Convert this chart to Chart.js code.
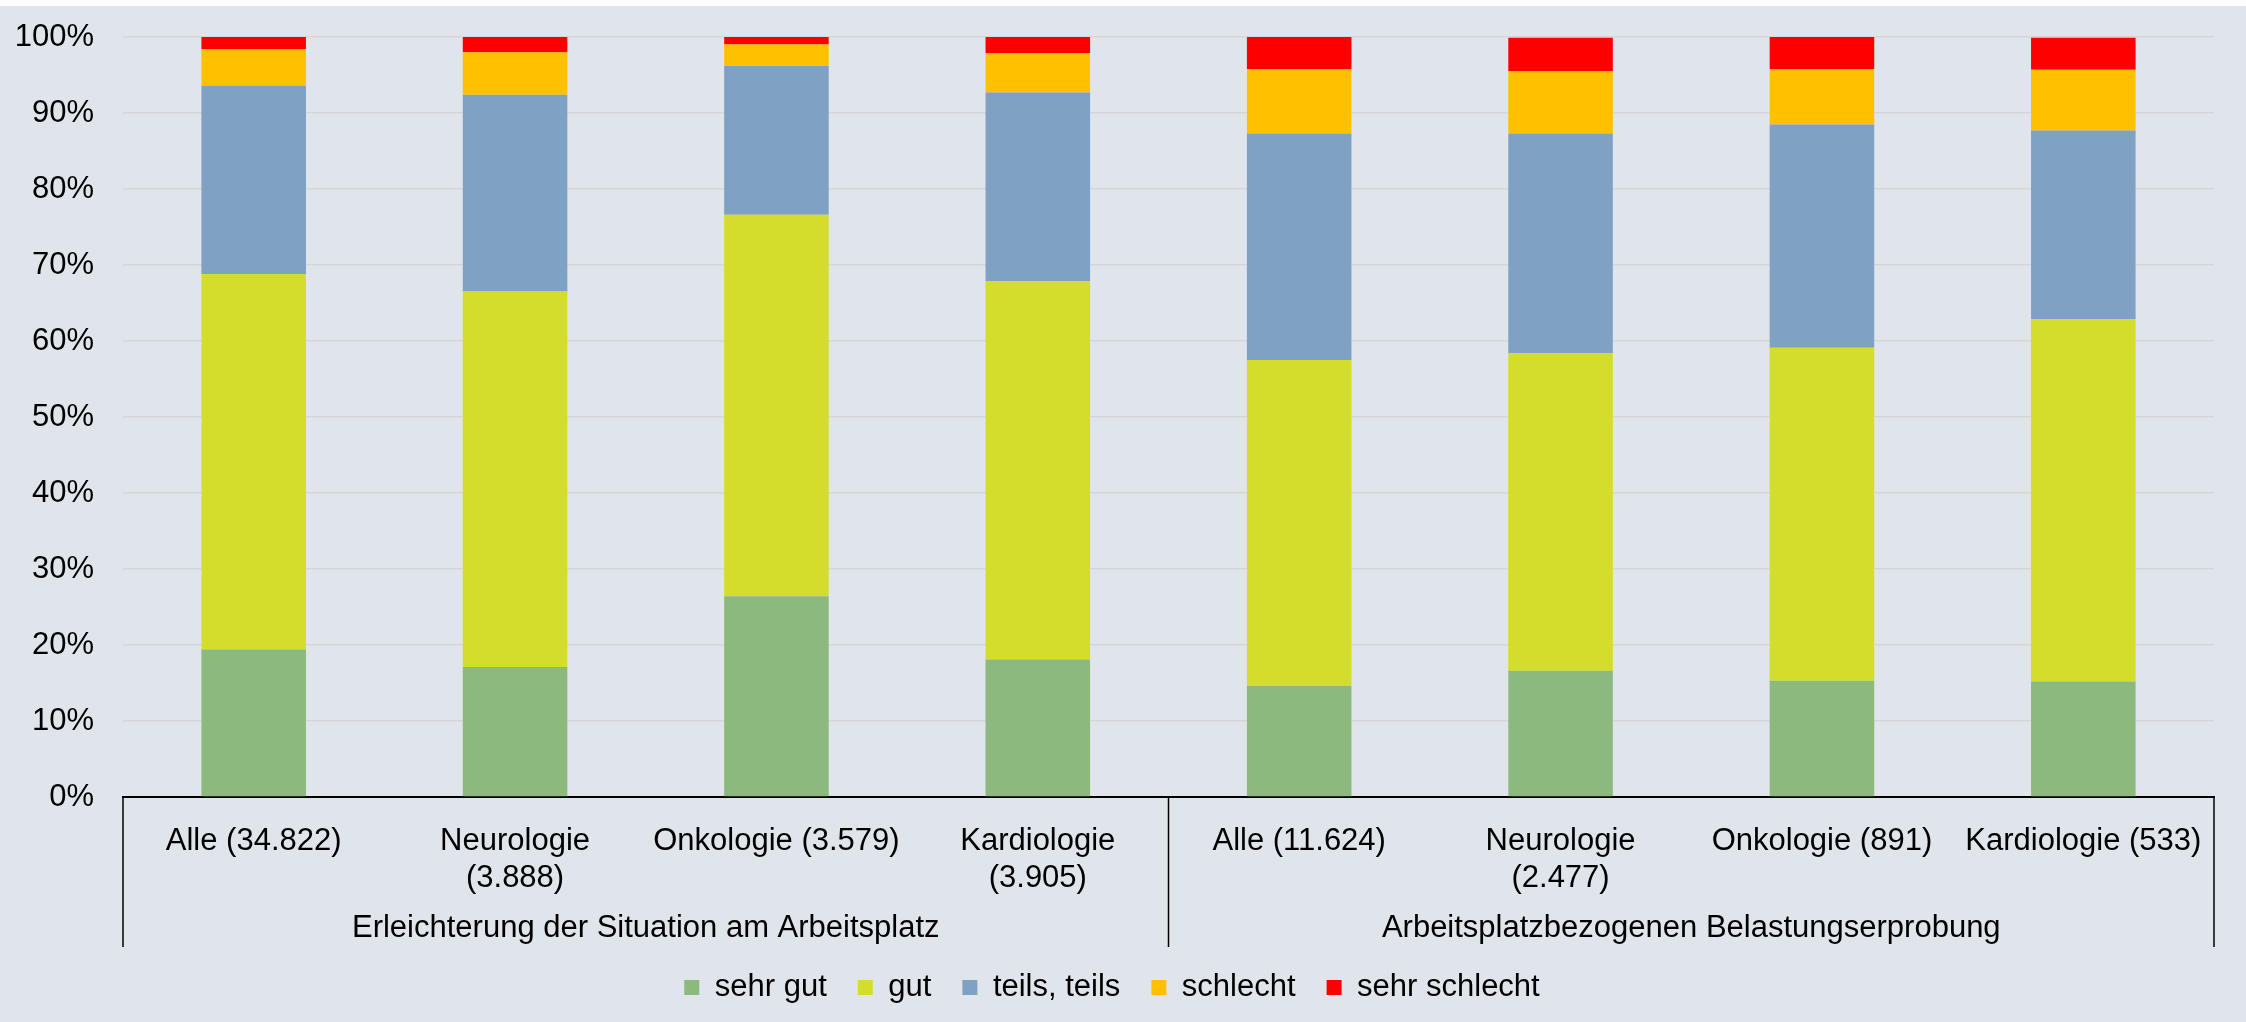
<!DOCTYPE html>
<html>
<head>
<meta charset="utf-8">
<script src="https://cdn.jsdelivr.net/npm/chart.js@4.4.1/dist/chart.umd.min.js"></script>
<style>
  body { margin: 0; background: #ffffff; }
  canvas { display: block; }
</style>
</head>
<body>
<canvas id="myChart" width="2246" height="1022"></canvas>
<script>

var categories = [
  'Alle (34.822)', ['Neurologie', '(3.888)'], 'Onkologie (3.579)', ['Kardiologie', '(3.905)'],
  'Alle (11.624)', ['Neurologie', '(2.477)'], 'Onkologie (891)', 'Kardiologie (533)'
];
var groups = ['Erleichterung der Situation am Arbeitsplatz', 'Arbeitsplatzbezogenen Belastungserprobung'];
var groupSize = 4;

var sehrGut     = [19.4, 17.1, 26.4, 18.1, 14.6, 16.6, 15.3, 15.2];
var gut         = [49.4, 49.4, 50.2, 49.8, 42.9, 41.8, 43.8, 47.7];
var teilsTeils  = [24.8, 25.9, 19.6, 24.8, 29.8, 28.9, 29.4, 24.8];
var schlecht    = [4.8, 5.6, 2.8, 5.2, 8.5, 8.2, 7.3, 8.0];
var sehrSchlecht = [1.6, 2.0, 1.0, 2.1, 4.2, 4.4, 4.2, 4.2];

var yTicks = [0, 10, 20, 30, 40, 50, 60, 70, 80, 90, 100];

var fontFamily = '"Liberation Sans", Arial, sans-serif';

// background, fixed legend height, group labels under the category axis
var groupAxis = {
  id: 'groupAxis',
  beforeLayout: function(chart) {
    var legend = chart.legend;
    if (legend && !legend._fixedFit) {
      var fit = legend.fit;
      legend.fit = function() {
        fit.call(this);
        this.height = 81;
      };
      legend._fixedFit = true;
    }
  },
  beforeDraw: function(chart) {
    var ctx = chart.ctx;
    ctx.save();
    ctx.fillStyle = '#ffffff';
    ctx.fillRect(0, 0, chart.width, chart.height);
    ctx.fillStyle = '#e0e5ec';
    ctx.fillRect(0, 6, chart.width, chart.height - 6);
    ctx.restore();
  },
  afterDraw: function(chart) {
    var ctx = chart.ctx;
    var x = chart.scales.x;
    var top = x.top;
    var bottom = top + 150;
    var bounds = [];
    for (var g = 0; g <= groups.length; g++) {
      bounds.push(x.getPixelForValue(g * groupSize - 0.5));
    }
    ctx.save();
    ctx.strokeStyle = '#000000';
    ctx.lineWidth = 1.5;
    bounds.forEach(function(b) {
      ctx.beginPath();
      ctx.moveTo(b, top);
      ctx.lineTo(b, bottom);
      ctx.stroke();
    });
    ctx.fillStyle = '#000000';
    ctx.font = '31px ' + fontFamily;
    ctx.textAlign = 'center';
    ctx.textBaseline = 'middle';
    groups.forEach(function(name, i) {
      ctx.fillText(name, (bounds[i] + bounds[i + 1]) / 2, top + 131);
    });
    ctx.restore();
  }
};

function init() {

  Chart.defaults.color = '#000000';
  Chart.defaults.font.family = fontFamily;
  Chart.defaults.font.size = 31;

  var ctx = document.getElementById('myChart').getContext('2d');
  var chart = new Chart(ctx, {
    type: 'bar',
    data: {
      labels: categories,
      datasets: [
        { label: 'sehr gut', data: sehrGut, backgroundColor: '#8cb97d' },
        { label: 'gut', data: gut, backgroundColor: '#d4dd2b' },
        { label: 'teils, teils', data: teilsTeils, backgroundColor: '#7fa1c4' },
        { label: 'schlecht', data: schlecht, backgroundColor: '#ffc000' },
        { label: 'sehr schlecht', data: sehrSchlecht, backgroundColor: '#ff0000' }
      ]
    },
    options: {
      responsive: false,
      animation: false,
      devicePixelRatio: 1,
      categoryPercentage: 1,
      barPercentage: 0.4,
      layout: { padding: { top: 37, left: 10, right: 32, bottom: 0 } },
      scales: {
        x: {
          stacked: true,
          grid: { display: false },
          border: { display: true, color: '#000000', width: 2 },
          ticks: { autoSkip: false, maxRotation: 0, padding: 18, font: { size: 31, lineHeight: 1.2 } },
          afterFit: function(scale) { scale.height = 144; }
        },
        y: {
          stacked: true,
          min: 0,
          max: 100,
          grid: { color: '#d6d6d8', lineWidth: 1.6, drawTicks: true, tickLength: 29, tickColor: 'rgba(0,0,0,0)' },
          border: { display: false },
          afterBuildTicks: function(scale) {
            scale.ticks = yTicks.map(function(v) { return { value: v }; });
          },
          ticks: {
            padding: 0,
            callback: function(v) { return v + '%'; }
          },
          afterFit: function(scale) { scale.width = 113; }
        }
      },
      plugins: {
        tooltip: { enabled: false },
        legend: {
          position: 'bottom',
          labels: { boxWidth: 15, boxHeight: 15, padding: 31, font: { size: 31 } }
        }
      }
    },
    plugins: [groupAxis]
  });
}

init();
</script>
</body>
</html>
